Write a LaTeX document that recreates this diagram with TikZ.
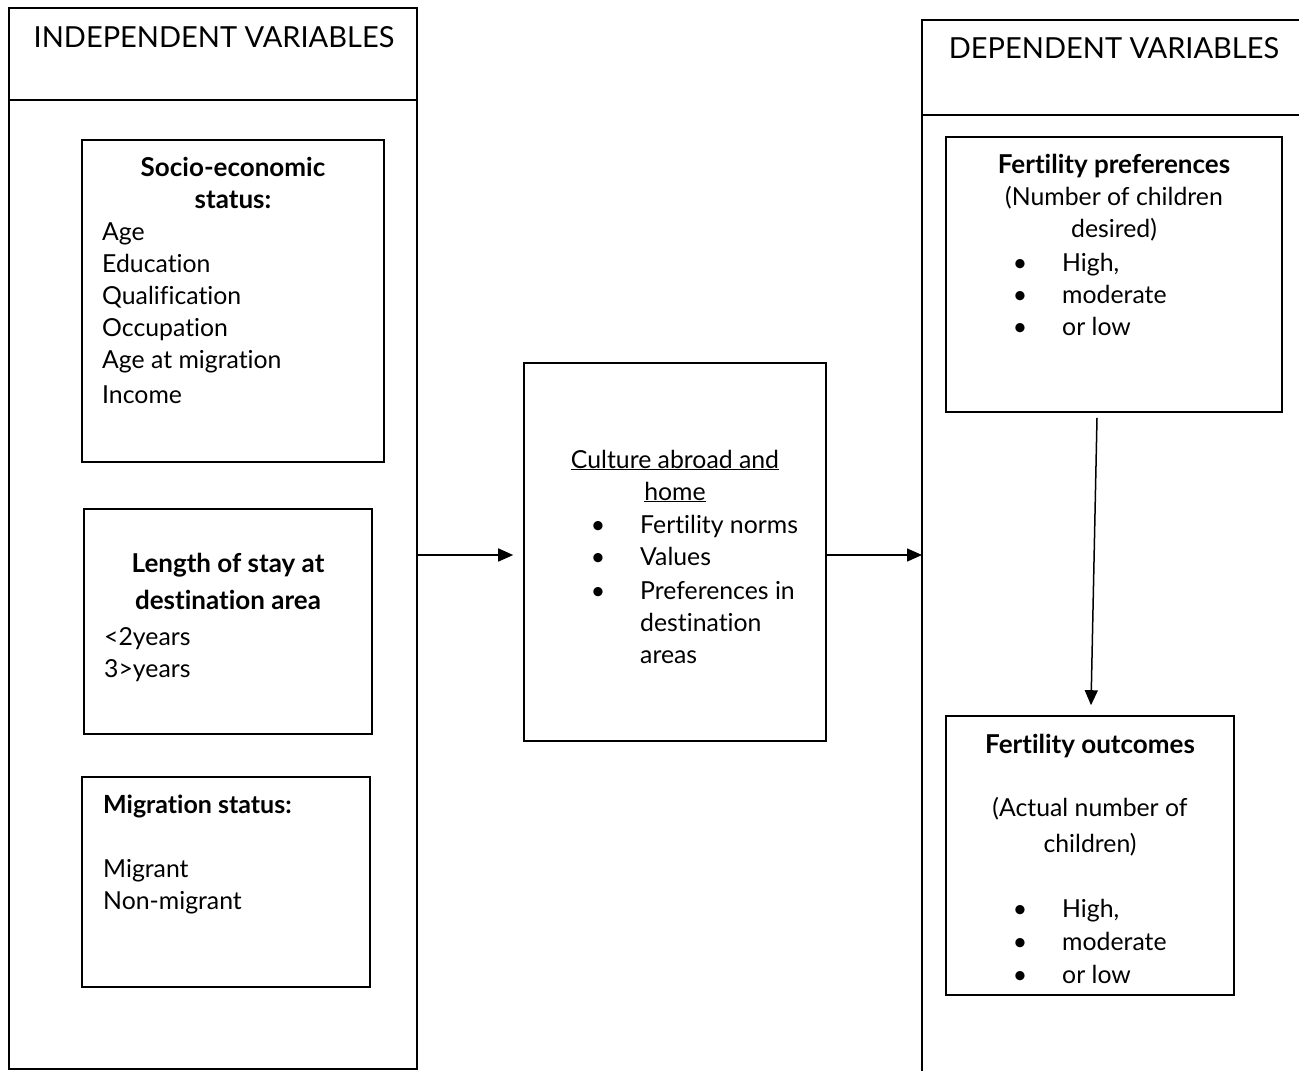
\documentclass[tikz,border=0pt]{standalone}
\usepackage{fontspec}
\setmainfont{Lato}[Ligatures=NoCommon]
\usetikzlibrary{arrows.meta,calc}
\begin{document}
\begin{tikzpicture}[x=1pt,y=-1pt,
  box/.style={draw,line width=1.6pt,rectangle,inner sep=0pt},
  col/.style={draw,line width=1.8pt,rectangle,inner sep=0pt},
  txt/.style={inner sep=0pt,font=\fontsize{24.8}{30}\selectfont},
  tl/.style={txt,anchor=base west},
  tc/.style={txt,anchor=base},
  hd/.style={txt,anchor=base,font=\fontsize{29}{34}\selectfont},
  bt/.style={txt,anchor=base,font=\fontsize{26}{30}\selectfont\bfseries},
  arr/.style={line width=1.5pt,-{Triangle[length=15pt,width=13pt]}}
]
\useasboundingbox (0,0) rectangle (1299,1071);
% left column
\node[col,minimum width=408pt,minimum height=1061pt] (indep) at (213,538.5) {};
\draw[line width=1.8pt] (indep.west |- 0,100) coordinate (hl) -- (indep.east |- 0,100) coordinate (hr);
\node[hd] (indeph) at (214,47) {INDEPENDENT VARIABLES};
% right column (open at right)
\coordinate (depTL) at (922,20);
\coordinate (depBL) at (922,1071);
\coordinate (depTR) at (1299,20);
\draw[line width=1.8pt] (depTR) -- (depTL) -- (depBL);
\draw[line width=1.8pt] (922,115) coordinate (dl) -- (1299,115) coordinate (dr);
\node[hd] (deph) at (1114,58) {DEPENDENT VARIABLES};

% socio-economic box
\node[box,minimum width=302pt,minimum height=322pt] (socio) at (233,301) {};
\node[bt] (s1) at (233,176) {Socio-economic};
\node[bt] (s2) at (233,208) {status:};
\node[tl] (s3) at (102,240) {Age};
\node[tl] (s4) at (102,272) {Education};
\node[tl] (s5) at (102,304) {Qualification};
\node[tl] (s6) at (102,336) {Occupation};
\node[tl] (s7) at (102,368) {Age at migration};
\node[tl] (s8) at (102,403) {Income};

% length of stay box
\node[box,minimum width=288pt,minimum height=225pt] (stay) at (228,621.5) {};
\node[bt] (l1) at (228,572) {Length of stay at};
\node[bt] (l2) at (228,609) {destination area};
\node[tl] (l3) at (104,645) {<2years};
\node[tl] (l4) at (104,677) {3>years};

% migration status box
\node[box,minimum width=288pt,minimum height=210pt] (mig) at (226,882) {};
\node[txt,anchor=base west,font=\fontsize{25}{30}\selectfont\bfseries] (m1) at (103,813) {Migration status:};
\node[tl] (m2) at (103,877) {Migrant};
\node[tl] (m3) at (103,909) {Non-migrant};

% culture box
\node[box,minimum width=302pt,minimum height=378pt] (culture) at (675,552) {};
\node[tc] (c1) at (675,468) {\underline{Culture abroad and}};
\node[tc] (c2) at (675,500) {\underline{home}};
\foreach \y/\t [count=\i] in {533/Fertility norms,565/Values,599/Preferences in} {
  \node[txt,anchor=base] (cb\i) at (598,\y) {•};
  \node[tl] (ct\i) at (640,\y) {\t};
}
\node[tl] (ct4) at (640,631) {destination};
\node[tl] (ct5) at (640,663) {areas};

% fertility preferences
\node[box,minimum width=336pt,minimum height=275pt] (pref) at (1114,274.5) {};
\node[bt] (p1) at (1114,173) {Fertility preferences};
\node[tc] (p2) at (1114,205) {(Number of children};
\node[tc] (p3) at (1114,237) {desired)};
\foreach \y/\t [count=\i] in {271/{High,},303/moderate,335/or low} {
  \node[txt,anchor=base] (pb\i) at (1020,\y) {•};
  \node[tl] (pt\i) at (1062,\y) {\t};
}

% fertility outcomes
\node[box,minimum width=288pt,minimum height=279pt] (outc) at (1090,855.5) {};
\node[bt] (o1) at (1090,753) {Fertility outcomes};
\node[tc] (o2) at (1090,816) {(Actual number of};
\node[tc] (o3) at (1090,852) {children)};
\foreach \y/\t [count=\i] in {917/{High,},950/moderate,983/or low} {
  \node[txt,anchor=base] (ob\i) at (1020,\y) {•};
  \node[tl] (ot\i) at (1062,\y) {\t};
}

% arrows
\coordinate (cw) at ($(culture.west)+(0,3)$);
\coordinate (ce) at ($(culture.east)+(0,3)$);
\coordinate (depL) at (ce -| depTL);
\draw[arr,shorten >=10pt] (indep.east |- cw) -- (cw);
\draw[arr] (ce) -- (depL);
\coordinate (a1) at ($(pref.south)+(-17,5)$);
\coordinate (a2) at ($(outc.north)+(1,-10)$);
\draw[arr] (a1) -- (a2);
\end{tikzpicture}
\end{document}
